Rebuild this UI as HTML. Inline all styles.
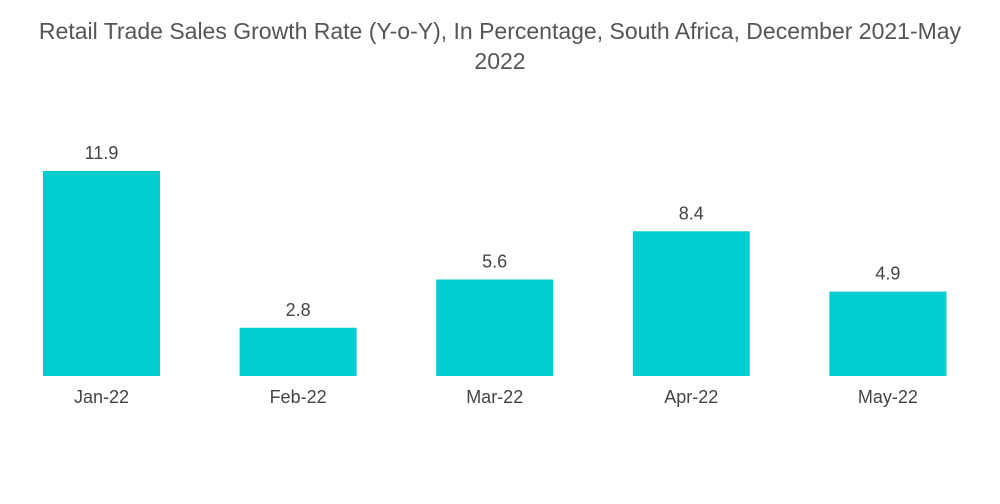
<!DOCTYPE html>
<html><head><meta charset="utf-8"><style>
body{margin:0;background:#fff;width:1000px;height:504px;overflow:hidden;font-family:"Liberation Sans",sans-serif}
#title{position:absolute;left:0;top:16px;width:1000px;text-align:center;font-size:23px;line-height:30px;color:#555}
</style></head><body>
<div id="title">Retail Trade Sales Growth Rate (Y-o-Y), In Percentage, South Africa, December 2021-May<br>2022</div>
<svg id="chart" width="1000" height="504" style="position:absolute;left:0;top:0"></svg>
<script>
const categories=["Jan-22","Feb-22","Mar-22","Apr-22","May-22"];
const values=[11.9,2.8,5.6,8.4,4.9];
const valueLabels=["11.9","2.8","5.6","8.4","4.9"];
const svg=document.getElementById('chart');
const NS="http://www.w3.org/2000/svg";
const baseY=376, pxPerUnit=17.23, x0=43, step=196.6, bw=117;
function xPos(i){return x0+i*step;}
function yPos(v){return baseY-v*pxPerUnit;}
categories.forEach((c,i)=>{
  const r=document.createElementNS(NS,'rect');
  r.setAttribute('x',xPos(i));r.setAttribute('y',yPos(values[i]));
  r.setAttribute('width',bw);r.setAttribute('height',baseY-yPos(values[i]));
  r.setAttribute('fill','#00cdd0');
  
  
  svg.appendChild(r);
  const t=document.createElementNS(NS,'text');
  t.setAttribute('x',xPos(i)+bw/2);t.setAttribute('y',yPos(values[i])-12);
  t.setAttribute('text-anchor','middle');t.setAttribute('font-size','18');t.setAttribute('fill','#444');
  t.setAttribute('font-family','Liberation Sans, sans-serif');
  t.textContent=valueLabels[i];
  
  
  svg.appendChild(t);
  const l=document.createElementNS(NS,'text');
  l.setAttribute('x',xPos(i)+bw/2);l.setAttribute('y',baseY+27);
  l.setAttribute('text-anchor','middle');l.setAttribute('font-size','18');l.setAttribute('fill','#444');
  l.setAttribute('font-family','Liberation Sans, sans-serif');
  l.textContent=c;
  
  
  svg.appendChild(l);
});
</script>
</body></html>
